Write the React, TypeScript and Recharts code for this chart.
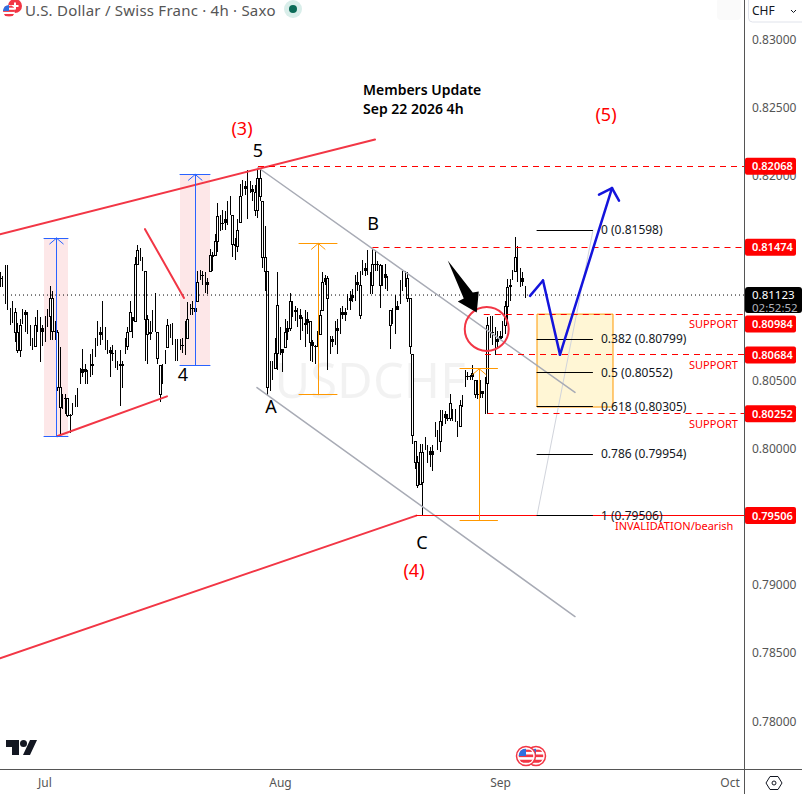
import React from "react";
import {
  Bar,
  ComposedChart,
  ReferenceArea,
  ReferenceDot,
  ReferenceLine,
  XAxis,
  YAxis,
} from "recharts";

// bar values in pips (0.0001)
const barHighs = [
  8129, 8126, 8134, 8134, 8103, 8108, 8103, 8092, 8095, 8102,
  8101, 8100, 8090, 8081, 8096, 8101, 8096, 8090, 8097, 8102,
  8119, 8115, 8093, 8087, 8074, 8040, 8040, 8037, 8025, 8033,
  8039, 8044, 8059, 8073, 8062, 8057, 8069, 8073, 8081, 8093,
  8089, 8108, 8089, 8079, 8074, 8076, 8072, 8064, 8072, 8064,
  8081, 8089, 8108, 8096, 8140, 8149, 8147, 8140, 8130, 8098,
  8093, 8101, 8114, 8085, 8061, 8062, 8072, 8095, 8091, 8092,
  8080, 8080, 8080, 8081, 8093, 8107, 8106, 8108, 8103, 8130,
  8131, 8130, 8129, 8125, 8146, 8144, 8157, 8180, 8171, 8175,
  8174, 8181, 8185, 8171, 8154, 8168, 8194, 8197, 8196, 8204,
  8196, 8193, 8193, 8205, 8205, 8181, 8163, 8130,
  8064, 8064, 8081, 8129, 8089, 8073, 8095, 8093, 8114, 8108,
  8104, 8103, 8102, 8096, 8101, 8100, 8093, 8079, 8076, 8086,
  8101, 8129, 8127, 8126, 8082, 8082, 8093, 8095, 8103, 8104,
  8103, 8113, 8115, 8117, 8127, 8129, 8130, 8138, 8136, 8145,
  8129, 8146, 8145, 8137, 8135, 8134, 8135, 8126, 8101, 8103,
  8112, 8108, 8123, 8130, 8130, 8129, 8110, 8069, 8005, 7994,
  8003, 8003, 8008, 8002, 8001, 8002, 8019, 8013, 8028, 8028,
  8027, 8025, 8040, 8029, 8029, 8020, 8035, 8039, 8057, 8056,
  8054, 8061, 8050, 8050, 8050, 8042, 8052, 8096, 8097, 8097,
  8089, 8086, 8086, 8093, 8108, 8124, 8124, 8131, 8155, 8148,
  8132, 8129, 8119,
];

const barLows = [
  8118, 8118, 8106, 8101, 8090, 8092, 8078, 8070, 8067, 8091,
  8085, 8084, 8075, 8072, 8074, 8085, 8063, 8075, 8078, 8089,
  8079, 8079, 8079, 8042, 8009, 8029, 8025, 8023, 8011, 8024,
  8030, 8030, 8047, 8052, 8047, 8047, 8052, 8054, 8067, 8075,
  8076, 8079, 8072, 8069, 8052, 8064, 8059, 8057, 8031, 8044,
  8069, 8072, 8086, 8081, 8093, 8134, 8137, 8130, 8064, 8062,
  8079, 8085, 8085, 8062, 8034, 8047, 8062, 8074, 8081, 8076,
  8064, 8064, 8072, 8070, 8068, 8081, 8098, 8098, 8091, 8108,
  8123, 8120, 8114, 8113, 8130, 8130, 8142, 8144, 8159, 8160,
  8160, 8164, 8171, 8140, 8138, 8144, 8166, 8185, 8186, 8168,
  8187, 8181, 8170, 8169, 8181, 8132, 8115, 8039,
  8042, 8050, 8059, 8057, 8068, 8056, 8074, 8079, 8086, 8096,
  8093, 8089, 8079, 8086, 8074, 8084, 8064, 8063, 8062, 8074,
  8084, 8101, 8120, 8057, 8069, 8074, 8076, 8069, 8084, 8095,
  8093, 8101, 8101, 8107, 8108, 8115, 8095, 8127, 8126, 8127,
  8113, 8113, 8130, 8130, 8103, 8119, 8117, 8115, 8073, 8091,
  8084, 8101, 8106, 8115, 8118, 8107, 8069, 8003, 7985, 7971,
  7974, 7950, 7999, 7989, 7986, 7983, 8008, 7999, 7997, 8016,
  8018, 8020, 8020, 8020, 8019, 8008, 8016, 8030, 8045, 8050,
  8050, 8050, 8037, 8036, 8037, 8037, 8025, 8025, 8081, 8076,
  8068, 8074, 8079, 8081, 8084, 8091, 8108, 8123, 8130, 8122,
  8118, 8119, 8110,
];

const barCloses = [
  8125, 8120, 8110, 8105, 8096, 8100, 8085, 8072, 8090, 8100,
  8098, 8092, 8085, 8075, 8090, 8095, 8088, 8085, 8092, 8097,
  8110, 8086, 8085, 8045, 8030, 8036, 8037, 8024, 8024, 8030,
  8036, 8042, 8055, 8058, 8056, 8052, 8062, 8060, 8075, 8083,
  8085, 8092, 8080, 8072, 8070, 8070, 8064, 8060, 8062, 8060,
  8075, 8085, 8100, 8093, 8135, 8145, 8142, 8132, 8095, 8084,
  8085, 8092, 8100, 8066, 8040, 8055, 8068, 8090, 8085, 8090,
  8075, 8068, 8076, 8075, 8068, 8095, 8102, 8103, 8100, 8122,
  8127, 8126, 8122, 8120, 8142, 8140, 8152, 8170, 8165, 8165,
  8168, 8175, 8180, 8150, 8148, 8160, 8185, 8192, 8190, 8194,
  8190, 8188, 8175, 8198, 8185, 8140, 8130, 8045,
  8050, 8058, 8070, 8105, 8085, 8070, 8085, 8088, 8108, 8100,
  8101, 8095, 8098, 8090, 8092, 8095, 8078, 8075, 8074, 8082,
  8098, 8122, 8125, 8110, 8078, 8080, 8086, 8088, 8098, 8100,
  8098, 8108, 8110, 8112, 8122, 8120, 8098, 8132, 8130, 8138,
  8120, 8135, 8135, 8134, 8120, 8128, 8125, 8118, 8090, 8095,
  8100, 8104, 8115, 8120, 8125, 8110, 8075, 8010, 7990, 7973,
  7997, 7975, 8003, 7998, 7995, 7998, 8012, 8005, 8020, 8025,
  8022, 8022, 8033, 8024, 8021, 8012, 8032, 8035, 8052, 8053,
  8052, 8055, 8040, 8040, 8042, 8040, 8048, 8090, 8085, 8085,
  8078, 8080, 8082, 8090, 8104, 8118, 8120, 8128, 8140, 8135,
  8125, 8122, 8112,
];

const monthTicks = [18, 112.2, 200.2, 292];
const monthLabels = ["Jul", "Aug", "Sep", "Oct"];

const priceTicks = [0.83, 0.825, 0.82, 0.805, 0.8, 0.79, 0.785, 0.78];
const tagPrices = [0.82068, 0.81474, 0.80984, 0.80684, 0.80252, 0.79506];
const lastPrice = 0.81123;
const countdown = "02:52:52";

const fibRatios = ["0", "0.382", "0.5", "0.618", "0.786", "1"];
const fibPrices = [0.81598, 0.80799, 0.80552, 0.80305, 0.79954, 0.79506];

// [barFrom, priceFrom, barTo, priceTo]
type Seg = [number, number, number, number];

const redTrendLines: Seg[] = [
  [0, 0.81569, 150, 0.82263],
  [0, 0.7846, 166.5, 0.79506],
  [22.8, 0.80088, 66.8, 0.8038],
  [58, 0.81606, 73.6, 0.81102],
];
const greyChannel: Seg[] = [
  [103.2, 0.82058, 230, 0.80409],
  [102.8, 0.80445, 230, 0.78766],
];
const fibTrend: Seg = [214.8, 0.79506, 237.2, 0.81598];
const dashedLevels: Seg[] = [
  [103.2, 0.82068, 297.6, 0.82068],
  [149, 0.81474, 297.6, 0.81474],
  [193.5, 0.80984, 297.6, 0.80984],
  [194, 0.80684, 297.6, 0.80684],
  [195, 0.80252, 297.6, 0.80252],
];
const invalidation: Seg = [166.5, 0.79506, 297.6, 0.79506];

const forecastPath: Seg[] = [
  [212, 0.81117, 217.2, 0.8123],
  [217.2, 0.8123, 224, 0.80686],
  [224, 0.80686, 244.8, 0.81907],
  [239.6, 0.81859, 244.8, 0.81907],
  [247.6, 0.81815, 244.8, 0.81907],
];

const blueRanges = [
  { bar: 22.6, left: 17.6, right: 27.2, top: 0.8154, bottom: 0.80088 },
  { bar: 78.1, left: 72, right: 84, top: 0.82007, bottom: 0.80606 },
];
const orangeRanges = [
  { bar: 127.3, left: 119.6, right: 134.8, top: 0.81501, bottom: 0.80392 },
  { bar: 191.7, left: 184, right: 199, top: 0.80582, bottom: 0.79472 },
];

const candles = barHighs.map((high, i) => {
  const low = barLows[i];
  const close = barCloses[i];
  const prev = i > 0 ? barCloses[i - 1] : close;
  const open = Math.min(high, Math.max(low, prev));
  return { bar: i, range: [low / 10000, high / 10000], high, low, open, close };
});

const FONT = '"Noto Sans", sans-serif';
const RED = "#f23645";
const LEVEL = "#ff0000";

// at this zoom a candle is mostly a stick: only tall bodies show as hollow
function Candle(props: any) {
  const { x, y, width, height, payload } = props;
  const cx = Math.round(x + width / 2);
  const span = payload.high - payload.low || 1;
  const top = Math.round(y + ((payload.high - Math.max(payload.open, payload.close)) / span) * height);
  const bottom = Math.round(y + ((payload.high - Math.min(payload.open, payload.close)) / span) * height);
  const bodyHeight = bottom - top;
  return (
    <g shapeRendering="crispEdges">
      <line x1={cx + 0.5} x2={cx + 0.5} y1={Math.round(y)} y2={Math.round(y + height)} stroke="#000" />
      {bodyHeight <= 4 ? (
        <rect x={cx - 1} y={top} width={3} height={Math.max(bodyHeight, 1)} fill="#000" />
      ) : bodyHeight >= 14 ? (
        <rect
          x={cx - 0.5}
          y={top + 0.5}
          width={2}
          height={bodyHeight}
          fill="#fff"
          stroke="#000"
          strokeWidth={1}
        />
      ) : null}
    </g>
  );
}

function PriceTick(props: any) {
  const { x, y, payload } = props;
  const v = payload.value;
  if (v === lastPrice) {
    return (
      <g fontFamily={FONT}>
        <rect x={x + 1} y={y - 8} width={57} height={26} rx={3} fill="#000" />
        <text x={x + 8} y={y + 4} fontSize={11.5} fill="#fff">
          {v.toFixed(5)}
        </text>
        <text x={x + 8} y={y + 17} fontSize={11.5} fill="#b2b5be">
          {countdown}
        </text>
      </g>
    );
  }
  if (tagPrices.includes(v)) {
    const shift = v === 0.80984 ? 10 : 0;
    return (
      <g fontFamily={FONT}>
        <rect x={x + 1} y={y + shift - 8.5} width={51} height={17} rx={2} fill="#ff0000" />
        <text x={x + 8} y={y + shift + 4} fontSize={11} fontWeight={600} fill="#fff">
          {v.toFixed(5)}
        </text>
      </g>
    );
  }
  return (
    <text x={x + 8} y={y + 4.5} fontFamily={FONT} fontSize={12} fill="#555">
      {v.toFixed(5)}
    </text>
  );
}

function SnapLine(props: any) {
  const { x1, y1, x2, y2, stroke, strokeWidth, strokeDasharray } = props;
  const flat = Math.abs(y1 - y2) < 0.01;
  const upright = Math.abs(x1 - x2) < 0.01;
  const snap = (v: number) => Math.round(v - 0.5) + 0.5;
  return (
    <line
      x1={upright ? snap(x1) : x1}
      x2={upright ? snap(x2) : x2}
      y1={flat ? snap(y1) : y1}
      y2={flat ? snap(y2) : y2}
      stroke={stroke}
      strokeWidth={strokeWidth}
      strokeDasharray={strokeDasharray}
      strokeLinecap={strokeDasharray ? "butt" : "round"}
    />
  );
}

function line(key: string, s: Seg, stroke: string, width = 1, dash?: string) {
  return (
    <ReferenceLine
      key={key}
      segment={[
        { x: s[0], y: s[1] },
        { x: s[2], y: s[3] },
      ]}
      stroke={stroke}
      strokeWidth={width}
      strokeDasharray={dash}
      ifOverflow="visible"
      shape={<SnapLine />}
    />
  );
}

// vertical measure with caps at both ends and an open head at the top
function rangeMark(key: string, r: any, color: string) {
  const headBar = 2.7;
  const headPrice = 0.00042;
  return [
    line(key + "v", [r.bar, r.bottom, r.bar, r.top], color),
    line(key + "t", [r.left, r.top, r.right, r.top], color),
    line(key + "b", [r.left, r.bottom, r.right, r.bottom], color),
    line(key + "l", [r.bar - headBar, r.top - headPrice, r.bar, r.top], color),
    line(key + "r", [r.bar + headBar, r.top - headPrice, r.bar, r.top], color),
  ];
}

function Arrow(props: any) {
  const { cx, cy } = props;
  const pts = [
    [-29, -52],
    [-4, -20],
    [2, -21],
    [0, 0],
    [-19, -11],
    [-13, -14],
  ]
    .map(([dx, dy]) => `${cx + dx},${cy + dy}`)
    .join(" ");
  return <polygon points={pts} fill="#000" />;
}

function FibLabel(props: any) {
  const { cx, cy, text } = props;
  return (
    <text x={cx} y={cy + 4} fontFamily={FONT} fontSize={12} fill="#131722">
      {text}
    </text>
  );
}

function Label({ x, y, color = "#000", size = 18, children }: any) {
  return (
    <text x={x} y={y} textAnchor="middle" fontFamily={FONT} fontSize={size} fill={color}>
      {children}
    </text>
  );
}

function UsFlag({ cx, cy, r, id }: any) {
  return (
    <g>
      <clipPath id={id}>
        <circle cx={cx} cy={cy} r={r} />
      </clipPath>
      <circle cx={cx} cy={cy} r={r} fill="#fff" />
      <g clipPath={`url(#${id})`}>
        <rect x={cx - r} y={cy - r * 0.2} width={2 * r} height={r * 0.35} fill="#f23645" />
        <rect x={cx - r} y={cy + r * 0.5} width={2 * r} height={r * 0.4} fill="#f23645" />
        <rect x={cx - r} y={cy - r * 0.85} width={2 * r} height={r * 0.3} fill="#f23645" />
        <rect x={cx - r} y={cy - r} width={r} height={r} fill="#2f6fe0" />
      </g>
    </g>
  );
}

export default function App() {
  return (
    <div
      style={{
        position: "absolute",
        left: 0,
        top: 0,
        width: 802,
        height: 794,
        overflow: "hidden",
        background: "#fff",
      }}
    >
      <ComposedChart
        width={802}
        height={794}
        data={candles}
        margin={{ top: 0, right: 0, bottom: 0, left: 0 }}
      >
        <XAxis
          dataKey="bar"
          type="number"
          domain={[0, 297.6]}
          allowDataOverflow
          ticks={monthTicks}
          interval={0}
          height={24}
          axisLine={false}
          tickLine={false}
          tick={{ fontFamily: FONT, fontSize: 12, fill: "#555" }}
          tickFormatter={(v: number) => monthLabels[monthTicks.indexOf(v)]}
        />
        <YAxis
          orientation="right"
          type="number"
          domain={[0.77641, 0.83286]}
          allowDataOverflow
          ticks={[...priceTicks, ...tagPrices, lastPrice]}
          interval={0}
          width={58}
          axisLine={false}
          tickLine={false}
          tickSize={0}
          tickMargin={0}
          tick={<PriceTick />}
        />

        <text
          x={370}
          y={398}
          textAnchor="middle"
          fontFamily={FONT}
          fontSize={49}
          fill="#000"
          fillOpacity={0.05}
        >
          USDCHF
        </text>

        {blueRanges.map((r, i) => (
          <ReferenceArea
            key={"pink" + i}
            x1={r.left}
            x2={r.right}
            y1={r.bottom}
            y2={r.top}
            fill={RED}
            fillOpacity={0.12}
            stroke="none"
            ifOverflow="visible"
          />
        ))}
        <ReferenceArea
          x1={214.8}
          x2={245.2}
          y1={0.80302}
          y2={0.80983}
          fill="#fff6d5"
          fillOpacity={1}
          stroke="#ff9800"
          strokeWidth={1}
          ifOverflow="visible"
        />

        <Bar
          dataKey="range"
          barSize={3}
          isAnimationActive={false}
          shape={<Candle />}
        />

        <ReferenceLine y={lastPrice} stroke="#000" strokeDasharray="1 3" />
        {line("fibTrend", fibTrend, "#d1d4dc", 1)}
        {greyChannel.map((s, i) => line("grey" + i, s, "#a8abb5", 1.5))}
        {redTrendLines.map((s, i) => line("red" + i, s, RED, 2))}
        {dashedLevels.map((s, i) => line("dash" + i, s, LEVEL, 1, "6 5"))}
        {line("invalidation", invalidation, LEVEL, 1)}
        {blueRanges.map((r, i) => rangeMark("blue" + i, r, "#2962ff"))}
        {orangeRanges.map((r, i) => rangeMark("orange" + i, r, "#ff9800"))}
        {fibPrices.map((p, i) => line("fib" + i, [214.8, p, 237, p], "#000", 1))}
        {fibPrices.map((p, i) => (
          <ReferenceDot
            key={"fibText" + i}
            x={240.4}
            y={p}
            shape={<FibLabel text={`${fibRatios[i]} (${p.toFixed(5)})`} />}
          />
        ))}
        {forecastPath.map((s, i) => line("path" + i, s, "#1414dc", 2.5))}
        <ReferenceDot x={194.7} y={0.80874} r={22} fill="none" stroke={RED} strokeWidth={2} />
        <ReferenceDot x={190.7} y={0.80995} shape={<Arrow />} />

        <Label x={242} y={135} color="#ff0000">(3)</Label>
        <Label x={258} y={157}>5</Label>
        <Label x={183} y={381}>4</Label>
        <Label x={271} y={413}>A</Label>
        <Label x={373} y={230}>B</Label>
        <Label x={422} y={549}>C</Label>
        <Label x={414} y={577} color="#ff0000">(4)</Label>
        <Label x={606} y={121} color="#ff0000">(5)</Label>

        <g fontFamily={FONT} fontSize={14} fontWeight={600} fill="#000">
          <text x={363} y={95}>Members Update</text>
          <text x={363} y={114}>Sep 22 2026 4h</text>
        </g>
        <g fontFamily={FONT} fontSize={11} fill="#ff0000">
          <text x={689} y={328}>SUPPORT</text>
          <text x={689} y={369}>SUPPORT</text>
          <text x={689} y={428}>SUPPORT</text>
          <text x={615} y={530}>INVALIDATION/bearish</text>
        </g>

        {/* frame */}
        <line x1={744.5} x2={744.5} y1={0} y2={794} stroke="#555" />
        <line x1={0} x2={802} y1={769.5} y2={769.5} stroke="#555" />

        {/* header */}
        <circle cx={15} cy={6} r={7} fill="#f23645" />
        <path d="M15 2.5v7M11.5 6h7" stroke="#fff" strokeWidth={2} />
        <UsFlag cx={9} cy={11} r={6} id="hdrFlag" />
        <text x={25} y={16} fontFamily={FONT} fontSize={15} letterSpacing={0.23} fill="#555">
          U.S. Dollar / Swiss Franc · 4h · Saxo
        </text>
        <circle cx={293} cy={9} r={9} fill="#d9eeea" />
        <circle cx={293} cy={9} r={4} fill="#0b6b58" />

        {/* currency selector */}
        <rect x={717} y={-2} width={24} height={22} rx={4} fill="#fafafa" />
        <rect x={748.5} y={-4} width={58} height={26} rx={4} fill="#fff" stroke="#e0e3eb" />
        <text x={752} y={15} fontFamily={FONT} fontSize={12} fill="#131722">CHF</text>
        <path d="M791 10l2.5 2.5 2.5-2.5" fill="none" stroke="#131722" />

        {/* logo, events, settings */}
        <path d="M6 740h13v15h-7v-8h-6z" fill="#131722" />
        <circle cx={23.5} cy={743.5} r={3.5} fill="#131722" />
        <path d="M30 740h7l-7 15h-7z" fill="#131722" />
        <circle cx={536} cy={756} r={9.5} fill="#fff" stroke={RED} strokeWidth={1.5} />
        <UsFlag cx={536} cy={756} r={7.5} id="evFlagB" />
        <circle cx={526} cy={756} r={9.5} fill="#fff" stroke={RED} strokeWidth={1.5} />
        <UsFlag cx={526} cy={756} r={7.5} id="evFlagA" />
        <path d="M770 776.5h8l4 6.5-4 6.5h-8l-4-6.5z" fill="none" stroke="#131722" />
        <circle cx={774} cy={783} r={2} fill="none" stroke="#131722" />
      </ComposedChart>
    </div>
  );
}
